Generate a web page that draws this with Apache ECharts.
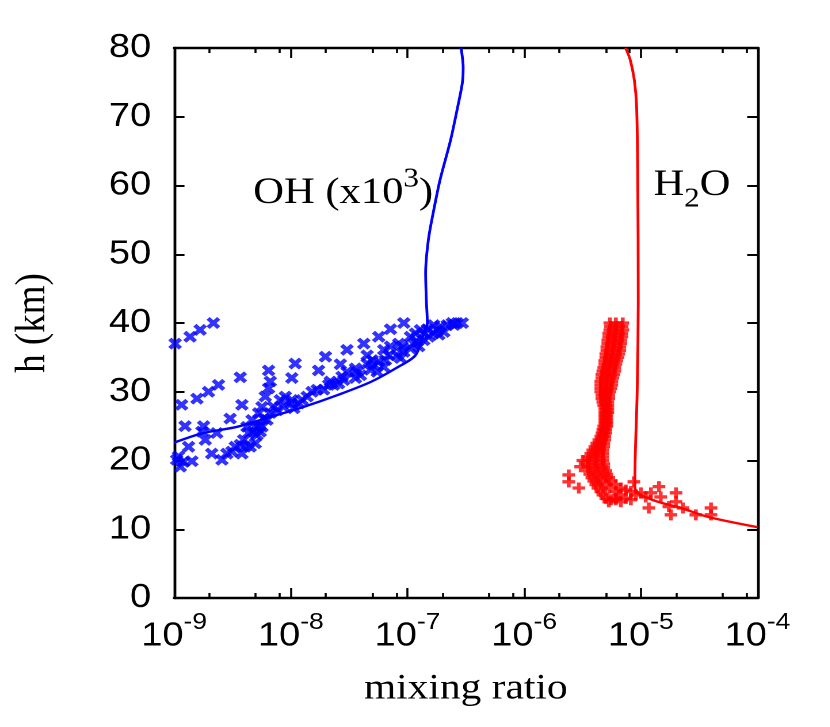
<!DOCTYPE html>
<html>
<head>
<meta charset="utf-8">
<script src="https://cdn.jsdelivr.net/npm/echarts@6/dist/echarts.min.js"></script>
<style>
html,body{margin:0;padding:0;background:#fff;overflow:hidden;}
#wrap{width:830px;height:727px;overflow:hidden;background:#fff;}
#c{height:727px;transform-origin:0 0;}
</style>
</head>
<body>
<div id="wrap"><div id="c"></div></div>
<script>
// ---- data ----
const xMajorTicks = [1e-9, 1e-8, 1e-7, 1e-6, 1e-5, 1e-4];
const xMinorTicks = [2e-9,5e-9,8e-9, 2e-8,5e-8,8e-8, 2e-7,5e-7,8e-7, 2e-6,5e-6,8e-6, 2e-5,5e-5,8e-5];
const yTicks = [0,10,20,30,40,50,60,70,80];

// OH model curve [mixing ratio, h km]
const ohModel = [
  [1.0e-9,22.6],[1.78e-9,24.0],[3.47e-9,24.9],[6.6e-9,26.3],[1.29e-8,27.8],[2.5e-8,29.5],
  [4.8e-8,31.4],[8.1e-8,33.5],[1.17e-7,35.3],[1.38e-7,38.5],[1.48e-7,40.0],[1.45e-7,43.3],
  [1.43e-7,47.3],[1.51e-7,52.1],[1.66e-7,56.0],[1.9e-7,60.8],[2.34e-7,66.6],[2.69e-7,71.4],
  [2.95e-7,74.9],[3.0e-7,77.2],[2.9e-7,79.7],[2.85e-7,80]
];
// H2O model curve
const h2oModel = [
  [1.0e-4,10.3],[3.76e-5,11.8],[2.2e-5,13.1],[1.4e-5,14.0],[1.0e-5,15.0],[8.9e-6,16.0],
  [8.9e-6,17.6],[9.3e-6,30],[9.5e-6,43],[9.4e-6,61.8],[9.2e-6,71.4],[8.8e-6,75.3],
  [8.1e-6,78.3],[7.4e-6,80]
];
// OH observations (x markers)
const ohObs = [
  [1.02e-9,37.0],[1.37e-9,38.0],[1.67e-9,39.0],[2.17e-9,40.0],[1.16e-9,28.1],[1.57e-9,29.0],
  [1.97e-9,30.0],[2.4e-9,31.0],[3.69e-9,32.1],[1.24e-9,25.0],[1.79e-9,25.0],[1.73e-9,24.2],
  [1.85e-9,23.0],[1.33e-9,22.0],[2.32e-9,24.0],[3.02e-9,26.1],[3.81e-9,28.1],[1.05e-9,20.1],
  [1.2e-9,19.8],[1.42e-9,19.9],[1.13e-9,19.1],[1.09e-9,20.6],[2.1e-9,21.0],[2.57e-9,20.1],
  [2.83e-9,21.0],[3.34e-9,22.0],[3.81e-9,21.0],[3.94e-9,23.0],[4.49e-9,22.0],[4.96e-9,22.5],
  [4.35e-9,24.0],[5.13e-9,23.7],[4.65e-9,25.9],[5.3e-9,26.9],[5.66e-9,27.8],[6.04e-9,29.3],
  [6.45e-9,30.5],[6.67e-9,31.5],[6.45e-9,33.1],[5.66e-9,24.9],[6.25e-9,25.9],[6.67e-9,26.9],
  [7.11e-9,27.8],[8.13e-9,28.8],[8.97e-9,29.3],[1.02e-8,28.8],[1.06e-8,27.6],[1.17e-8,28.3],
  [1.25e-8,28.8],[1.38e-8,29.3],[1.52e-8,30.0],[1.68e-8,30.3],[1.91e-8,30.3],[2.11e-8,31.0],
  [2.33e-8,31.0],[2.57e-8,31.2],[2.84e-8,31.7],[2.75e-8,32.2],[3.03e-8,32.9],[3.58e-8,32.0],
  [3.7e-8,32.9],[3.95e-8,32.4],[4.51e-8,34.1],[4.81e-8,33.2],[5.14e-8,33.9],[5.5e-8,32.9],
  [6.26e-8,33.6],[6.47e-8,34.6],[6.91e-8,35.3],[7.15e-8,36.6],[6.26e-8,36.1],[8.15e-8,35.3],
  [8.71e-8,34.9],[9.3e-8,35.8],[8.42e-8,37.0],[1.06e-7,36.3],[1.06e-7,38.0],[1.13e-7,37.0],
  [1.25e-7,36.6],[1.17e-7,38.5],[1.29e-7,39.0],[1.38e-7,37.5],[1.52e-7,38.0],[1.68e-7,38.5],
  [1.8e-7,39.0],[1.92e-7,39.5],[2.19e-7,39.7],[2.42e-7,40.0],[2.67e-7,40.0],[2.95e-7,40.0],
  [1.68e-7,39.7],[2.05e-7,38.7],[1.21e-7,37.3],[1.09e-8,34.1],[1.02e-8,32.0],[1.73e-8,33.1],
  [1.98e-8,35.1],[2.66e-8,34.0],[3.03e-8,36.1],[4.22e-8,37.0],[5.67e-8,38.0],[7.15e-8,39.1],
  [9.3e-8,40.0],[1.48e-7,39.1],[4.51e-8,35.3],[3.58e-8,33.4],[4.21e-9,24.9],[4.8e-9,24.2],
  [5.3e-9,24.9],[5.85e-9,26.1],[7.62e-9,27.3],[8.67e-9,27.8],[1.0e-8,28.3],[2.18e-8,31.5],
  [4.06e-9,22.0],[3.69e-9,22.3],[3.13e-9,21.3],[5.47e-9,24.2],[4.96e-9,24.9],[4.98e-8,34.6],
  [5.67e-8,34.4],[9.0e-8,36.6],[1.38e-7,38.5],[1.86e-7,38.3],[2.5e-7,39.7]
];
// H2O observations (+ markers)
const h2oObs = [
  [5.42e-6,40],[6.1e-6,40],[7.0e-6,40],[5.5e-6,39.5],[6.2e-6,39.5],[6.9e-6,39.5],
  [5.42e-6,39],[6.0e-6,39],[7.0e-6,39],[5.31e-6,38.5],[5.98e-6,38.5],[6.87e-6,38.5],
  [5.31e-6,38],[6.05e-6,38],[6.87e-6,38],[5.21e-6,37.5],[5.86e-6,37.5],[6.73e-6,37.5],
  [5.21e-6,37],[5.9e-6,37],[6.73e-6,37],[5.11e-6,36.5],[5.75e-6,36.5],[6.6e-6,36.5],
  [5.11e-6,36],[5.8e-6,36],[6.6e-6,36],[5.01e-6,35.5],[5.64e-6,35.5],[6.47e-6,35.5],
  [5.01e-6,35],[5.6e-6,35],[6.35e-6,35],[4.91e-6,34.5],[5.53e-6,34.5],[6.22e-6,34.5],
  [4.91e-6,34],[5.4e-6,34],[6.1e-6,34],[4.81e-6,33.5],[5.31e-6,33.5],[5.98e-6,33.5],
  [4.72e-6,33],[5.31e-6,33],[5.98e-6,33],[4.63e-6,32.5],[5.21e-6,32.5],[5.86e-6,32.5],
  [4.63e-6,32],[5.15e-6,32],[5.75e-6,32],[4.54e-6,31.5],[5.01e-6,31.5],[5.64e-6,31.5],
  [4.54e-6,31],[5.05e-6,31],[5.64e-6,31],[4.54e-6,30.5],[5.01e-6,30.5],[5.53e-6,30.5],
  [4.54e-6,30],[4.95e-6,30],[5.42e-6,30],[4.63e-6,29.5],[4.91e-6,29.5],[5.31e-6,29.5],
  [4.63e-6,29],[4.95e-6,29],[5.31e-6,29],[4.72e-6,28.5],[4.96e-6,28.5],[5.21e-6,28.5],
  [4.81e-6,28],[5.01e-6,28],[5.21e-6,28],[4.91e-6,27.5],[5.06e-6,27.5],[5.21e-6,27.5],
  [4.91e-6,27],[5.06e-6,27],[5.21e-6,27],[4.91e-6,26.5],[5.01e-6,26.5],[5.11e-6,26.5],
  [4.91e-6,26],[5.01e-6,26],[5.11e-6,26],[4.91e-6,25.5],[5.01e-6,25.5],[5.11e-6,25.5],
  [4.81e-6,25],[4.96e-6,25],[5.11e-6,25],[4.72e-6,24.5],[4.86e-6,24.5],[5.01e-6,24.5],
  [4.63e-6,24],[4.81e-6,24],[5.01e-6,24],[4.54e-6,23.5],[4.72e-6,23.5],[4.91e-6,23.5],
  [4.36e-6,23],[4.63e-6,23],[4.91e-6,23],[4.19e-6,22.5],[4.49e-6,22.5],[4.81e-6,22.5],
  [4.03e-6,22],[4.4e-6,22],[4.81e-6,22],[3.87e-6,21.5],[4.28e-6,21.5],[4.72e-6,21.5],
  [3.72e-6,21],[4.19e-6,21],[4.72e-6,21],[3.58e-6,20.5],[4.11e-6,20.5],[4.72e-6,20.5],
  [3.51e-6,20],[4.07e-6,20],[4.72e-6,20],[3.51e-6,19.5],[4.11e-6,19.5],[4.81e-6,19.5],
  [3.51e-6,19],[4.11e-6,19],[4.81e-6,19],[3.58e-6,18.5],[4.23e-6,18.5],[5.01e-6,18.5],
  [3.65e-6,18],[4.32e-6,18],[5.11e-6,18],[3.8e-6,17.5],[4.49e-6,17.5],[5.31e-6,17.5],
  [3.95e-6,17],[4.67e-6,17],[5.53e-6,17],[4.11e-6,16.5],[5.01e-6,16.5],[6.1e-6,16.5],
  [4.28e-6,16],[5.37e-6,16],[6.73e-6,16],[4.54e-6,15.5],[6.1e-6,15.5],[8.21e-6,15.5],
  [4.72e-6,15],[6.47e-6,15],[9.06e-6,15],[5.01e-6,14.5],[6.1e-6,14.5],[7.43e-6,14.5],
  [5.31e-6,14],[6.73e-6,14],
  [2.41e-6,17.9],[2.41e-6,16.9],[2.94e-6,16.0],[3.18e-6,20.0],[3.05e-6,19.1],[1.43e-5,16.2],
  [2.0e-5,15.3],[2.0e-5,14.0],[1.22e-5,15.3],[1.17e-5,13.1],[1.74e-5,13.3],[1.81e-5,12.1],
  [2.29e-5,13.1],[2.96e-5,12.1],[3.99e-5,13.1],[3.99e-5,12.1],[8.71e-6,16.9],[7.43e-6,15.7],
  [1.0e-5,15.3],[6.1e-6,14.3],[5.53e-6,14.3],[8.21e-6,14.3],[1.1e-5,14.7],[1.48e-5,14.7]
];

// ---- layout (reference is drawn slightly wide: stretch horizontally) ----
const SX = 1.15;
const W = 830 / SX;
const el = document.getElementById('c');
el.style.width = W + 'px';
el.style.transform = 'scaleX(' + SX + ')';

const PLUS = 'path://M3.5,0H6.5V3.5H10V6.5H6.5V10H3.5V6.5H0V3.5H3.5Z';
const chart = echarts.init(el, null, {renderer: 'canvas', devicePixelRatio: 2, width: W, height: 727});
const sans = 'Liberation Sans, Arial, Helvetica, sans-serif';
const serif = 'Liberation Serif, Times New Roman, serif';
const axLine = {show: true, lineStyle: {color: '#000', width: 2.4}};
function xAxisDef(pos, ticks, len, labels, line) {
  return {
    type: 'log', position: pos, min: 1e-9, max: 1e-4, logBase: 10,
    axisLine: line ? axLine : {show: false},
    splitLine: {show: false},
    axisTick: {show: true, inside: true, length: len, customValues: ticks,
               lineStyle: {color: '#000', width: 1.8}},
    axisLabel: labels ? {
      show: true, customValues: ticks, margin: 13,
      formatter: v => '{a|10}{b|' + Math.round(Math.log10(v)) + '}',
      rich: {
        a: {fontFamily: sans, fontSize: 33, color: '#000', verticalAlign: 'bottom', lineHeight: 42},
        b: {fontFamily: sans, fontSize: 23, color: '#000', verticalAlign: 'top', lineHeight: 42, padding: [0,0,17,0]}
      }
    } : {show: false}
  };
}
function yAxisDef(pos, labels) {
  return {
    type: 'value', position: pos, min: 0, max: 80, interval: 10,
    axisLine: axLine, splitLine: {show: false},
    axisTick: {show: true, inside: true, length: 9, lineStyle: {color: '#000', width: 2}},
    axisLabel: labels ? {show: true, fontFamily: sans, fontSize: 33, color: '#000', margin: 20} : {show: false}
  };
}
const xa0 = xAxisDef('bottom', xMajorTicks, 10, true, true);
xa0.name = 'mixing ratio';
xa0.nameLocation = 'middle';
xa0.nameGap = 73;
xa0.nameTextStyle = {fontFamily: serif, fontSize: 36, color: '#000'};
const ya0 = yAxisDef('left', true);
ya0.name = 'h (km)';
ya0.nameLocation = 'middle';
ya0.nameGap = 104;
ya0.nameTextStyle = {fontFamily: serif, fontSize: 37, color: '#000'};

chart.setOption({
  animation: false,
  backgroundColor: '#fff',
  grid: {left: 174 / SX, right: 73 / SX, top: 48, bottom: 129, containLabel: false},
  xAxis: [
    xa0,
    xAxisDef('bottom', xMinorTicks, 5, false, false),
    xAxisDef('top', xMajorTicks, 10, false, true),
    xAxisDef('top', xMinorTicks, 5, false, false)
  ],
  yAxis: [ya0, yAxisDef('right', false)],
  graphic: [
    {type: 'text', left: 253 / SX, top: 166, style: {
      text: '{m|OH (x10}{s|3}{m|)}',
      rich: {
        m: {fontFamily: serif, fontSize: 37, fill: '#000', verticalAlign: 'bottom', lineHeight: 46},
        s: {fontFamily: serif, fontSize: 27, fill: '#000', verticalAlign: 'top', lineHeight: 46, padding: [0,0,22,0]}
      }
    }},
    {type: 'text', left: 653 / SX, top: 166, style: {
      text: '{m|H}{s|2}{m|O}',
      rich: {
        m: {fontFamily: serif, fontSize: 37, fill: '#000', verticalAlign: 'top', lineHeight: 46},
        s: {fontFamily: serif, fontSize: 27, fill: '#000', verticalAlign: 'bottom', lineHeight: 46, padding: [20,0,0,0]}
      }
    }}
  ],
  series: [
    {type: 'scatter', name: 'OH obs', data: ohObs, symbol: PLUS, symbolRotate: 45, symbolSize: 13,
     itemStyle: {color: '#0000ff'}, xAxisIndex: 0, yAxisIndex: 0, z: 3},
    {type: 'line', name: 'OH model', data: ohModel, showSymbol: false, smooth: 0.3,
     lineStyle: {color: '#0000ff', width: 2.4}, xAxisIndex: 0, yAxisIndex: 0, z: 4},
    {type: 'scatter', name: 'H2O obs', data: h2oObs, symbol: PLUS, symbolSize: 11,
     itemStyle: {color: '#ff0000'}, xAxisIndex: 0, yAxisIndex: 0, z: 3},
    {type: 'line', name: 'H2O model', data: h2oModel, showSymbol: false, smooth: 0.3,
     lineStyle: {color: '#ff0000', width: 2.4}, xAxisIndex: 0, yAxisIndex: 0, z: 4}
  ]
});
</script>
</body>
</html>
